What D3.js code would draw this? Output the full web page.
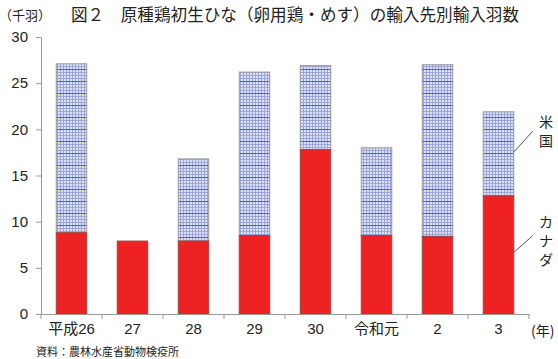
<!DOCTYPE html>
<html><head><meta charset="utf-8">
<script src="https://cdn.jsdelivr.net/npm/d3@7"></script>
<style>
html,body{margin:0;padding:0;background:#fff;}
svg{display:block;}
text{font-family:"Liberation Sans","Noto Sans CJK JP",sans-serif;}
.jp{font-family:"Noto Sans CJK JP",sans-serif;}
</style></head>
<body>
<script>
const categories = ["平成26","27","28","29","30","令和元","2","3"];
const canada = [8.8, 7.9, 7.9, 8.5, 17.8, 8.5, 8.4, 12.8];
const usa = [18.3, 0, 8.9, 17.7, 9.1, 9.5, 18.6, 9.1];
const yTicks = [0,5,10,15,20,25,30];
const seriesNames = ["カナダ","米国"];

const W=558,H=359;
const svg=d3.select("body").append("svg").attr("width",W).attr("height",H);

const defs=svg.append("defs");
const pat=defs.append("pattern").attr("id","grid").attr("patternUnits","userSpaceOnUse")
  .attr("width",3).attr("height",12);
pat.append("rect").attr("width",3).attr("height",12).attr("fill","#dde1f4");
pat.append("rect").attr("x",0).attr("y",0).attr("width",1).attr("height",12).attr("fill","#9ca5da");
[0,3,6,9].forEach(v=>pat.append("rect").attr("x",0).attr("y",v).attr("width",3).attr("height",1).attr("fill","#9ca5da"));
pat.append("rect").attr("x",0).attr("y",9).attr("width",3).attr("height",1).attr("fill","#5563b5");

const x=d3.scaleBand().domain(categories).range([41,529]).paddingInner(0.5).paddingOuter(0.25);
const y=d3.scaleLinear().domain([0,30]).range([314,37]);

const data=categories.map((c,i)=>({c,can:canada[i],us:usa[i]}));

// bars
const g=svg.append("g");
g.selectAll(".us").data(data.filter(d=>d.us>0)).join("rect")
  .attr("x",d=>x(d.c)).attr("width",x.bandwidth())
  .attr("y",d=>y(d.can+d.us)).attr("height",d=>y(d.can)-y(d.can+d.us))
  .attr("fill","url(#grid)").attr("stroke","#999").attr("stroke-width",1);
g.selectAll(".ca").data(data).join("rect")
  .attr("x",d=>x(d.c)).attr("width",x.bandwidth())
  .attr("y",d=>y(d.can)).attr("height",d=>y(0)-y(d.can))
  .attr("fill","#ee2222").attr("stroke","#a04040").attr("stroke-width",1);

// y axis
const ya=svg.append("g").attr("transform","translate(41,0)")
  .call(d3.axisLeft(y).tickValues(yTicks).tickSize(5).tickSizeOuter(0).tickPadding(8));
ya.select(".domain").attr("stroke","#999");
ya.selectAll(".tick line").attr("stroke","#999");
ya.selectAll(".tick text").attr("font-size",15).attr("fill","#222").attr("font-family","Liberation Sans");

// x axis
const xa=svg.append("g").attr("transform","translate(0,314)")
  .call(d3.axisBottom(x).tickSize(0).tickPadding(9));
xa.select(".domain").attr("stroke","#999");
xa.selectAll(".tick text").attr("font-size",15).attr("fill","#222")
  .attr("font-family",'"Liberation Sans","Noto Sans CJK JP",sans-serif');
const bounds=categories.map(c=>x(c)-x.step()*x.paddingInner()/2).concat([x.range()[1]]);
bounds[0]=x.range()[0];
svg.append("g").selectAll("line").data(bounds).join("line")
  .attr("x1",d=>d).attr("x2",d=>d).attr("y1",314).attr("y2",319).attr("stroke","#999");

// title and notes
svg.append("text").attr("class","jp").attr("x",71).attr("y",21).attr("font-size",16.6).attr("fill","#222")
  .text("図２　原種鶏初生ひな（卵用鶏・めす）の輸入先別輸入羽数");
svg.append("text").attr("class","jp").attr("x",-1).attr("y",20).attr("font-size",13).attr("fill","#222").text("（千羽）");
svg.append("text").attr("class","jp").attr("x",531).attr("y",336).attr("font-size",14).attr("fill","#222").text("(年)");
svg.append("text").attr("class","jp").attr("x",36).attr("y",356).attr("font-size",11).attr("fill","#222").text("資料：農林水産省動物検疫所");

// legend labels (vertical) with leader lines
const last=data[data.length-1];
const bx=x(last.c)+x.bandwidth();
const legend=[
  {name:seriesNames[1], yv:last.can+last.us*0.52, ty:-21, top:127},
  {name:seriesNames[0], yv:last.can*0.52, ty:-17, top:227}
];
legend.forEach(l=>{
  const y0=y(l.yv);
  svg.append("line").attr("x1",bx).attr("y1",y0).attr("x2",bx+19).attr("y2",y0+l.ty).attr("stroke","#555");
  const t=svg.append("text").attr("class","jp").attr("font-size",14).attr("fill","#222");
  Array.from(l.name).forEach((ch,i)=>{
    t.append("tspan").attr("x",546).attr("y",l.top+i*19).attr("text-anchor","middle").text(ch);
  });
});
</script>
</body></html>
